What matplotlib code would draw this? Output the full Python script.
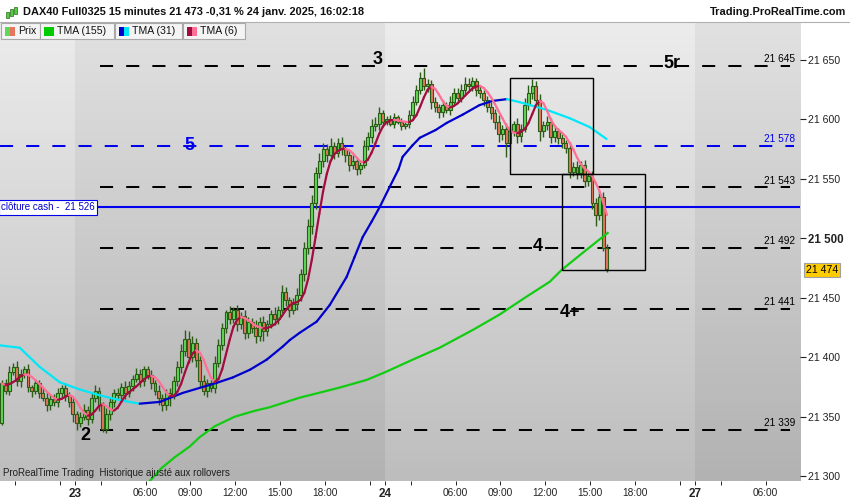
import numpy as np
import pandas as pd
import matplotlib
matplotlib.use("Agg")
import matplotlib.pyplot as plt
from matplotlib.collections import LineCollection
from matplotlib.patches import Rectangle
from matplotlib.colors import to_rgb

plt.rcParams['font.family'] = ['Liberation Sans', 'DejaVu Sans']

W, H = 850, 500

# ---------------- data (15 min bars, 22 janv. 17:00 -> 24 janv. 16:00) ----------------
first_open = 21345
close_22 = [21378, 21372, 21388, 21392, 21380, 21386, 21390, 21375, 21372, 21378,
            21370, 21366, 21360, 21365, 21362, 21370, 21374, 21368, 21362, 21352]
close_23 = [21345, 21350, 21356, 21348, 21366, 21372, 21360, 21340, 21352, 21362,
            21370, 21368, 21375, 21370, 21376, 21382, 21386, 21380, 21390, 21385,
            21378, 21372, 21366, 21360, 21370, 21368, 21380, 21392, 21405, 21415,
            21400, 21412, 21398, 21380, 21372, 21378, 21374, 21395, 21410, 21425,
            21438, 21432, 21440, 21428, 21435, 21420, 21430, 21425, 21418, 21430,
            21422, 21428, 21436, 21432, 21440, 21455, 21448, 21440, 21445, 21452,
            21470, 21492, 21510, 21530, 21555, 21565, 21575, 21570, 21578, 21572,
            21580, 21575, 21570, 21562, 21565, 21558, 21562, 21578, 21585, 21594,
            21596, 21605, 21598]
close_24 = [21600, 21596, 21602, 21598, 21594, 21596, 21604, 21615, 21625, 21635,
            21628, 21630, 21615, 21610, 21606, 21612, 21608, 21615, 21622, 21618,
            21625, 21630, 21628, 21632, 21625, 21622, 21616, 21610,
            21605, 21598, 21588, 21592, 21580, 21590, 21596, 21586, 21592, 21612,
            21622, 21628, 21616, 21590, 21595, 21598, 21585, 21590, 21584, 21580,
            21576, 21556, 21560, 21555, 21562, 21548, 21552, 21530, 21520, 21535,
            21492, 21474]

up_22 = [3, 4, 5, 3, 5, 4, 3, 4, 2, 4, 3, 4, 5, 3, 4, 4, 3, 4, 3, 4]
up_23 = [3, 4, 5, 3, 4, 5, 3, 2, 5, 4, 3, 4, 3, 5, 4, 3, 5, 4, 3, 3,
         4, 3, 5, 3, 3, 4, 4, 5, 6, 8, 7, 6, 4, 3, 5, 4, 3, 6, 5, 4,
         2, 5, 2, 4, 3, 5, 4, 3, 6, 4, 5, 3, 4, 6, 3, 6, 4, 3, 5, 6,
         4, 5, 6, 6, 5, 7, 5, 4, 6, 3, 4, 5, 3, 4, 5, 3, 4, 5, 4, 6,
         6, 5, 3]
up_24 = [3, 4, 3, 2, 3, 2, 4, 5, 4, 5, 8, 4, 3, 4, 3, 4, 3, 5, 4, 4,
         5, 6, 5, 4, 3, 4, 3, 4, 5, 4, 6, 3, 5, 4, 3, 5, 4, 6,
         7, 6, 4, 5, 4, 5, 3, 4, 3, 4, 3, 5, 4, 5, 3, 4, 3, 5, 4, 5, 4, 3]
dn_22 = [2, 3, 4, 3, 4, 5, 3, 4, 5, 3, 4, 3, 5, 4, 3, 4, 3, 5, 4, 6]
dn_23 = [6, 4, 3, 5, 3, 4, 5, 3, 4, 5, 4, 3, 4, 5, 3, 4, 3, 5, 4, 3,
         5, 4, 6, 5, 4, 9, 3, 4, 5, 4, 5, 4, 6, 5, 4, 5, 3, 4, 3, 4,
         5, 4, 3, 6, 4, 5, 4, 5, 6, 4, 8, 4, 3, 5, 4, 3, 5, 6, 4, 5,
         5, 6, 5, 6, 5, 4, 5, 6, 4, 5, 4, 5, 6, 5, 4, 5, 4, 3, 4, 5,
         4, 5, 4]
dn_24 = [3, 2, 3, 2, 3, 2, 3, 4, 3, 4, 3, 5, 6, 4, 5, 4, 3, 4, 3, 4,
         3, 4, 3, 4, 5, 4, 5, 4, 5, 6, 7, 5, 12, 5, 4, 6, 5, 3,
         4, 5, 6, 8, 5, 4, 5, 4, 5, 4, 4, 5, 4, 5, 4, 5, 4, 5, 10, 5, 3, 2]

# TMA (31) and TMA (155) (x in bar units)
tma31_x = [0, 5.3, 10.6, 16.0, 21.3, 26.7, 32.0, 37.4, 42.8, 48.9, 58.0, 62.3, 66.9,
           71.4, 75.7, 77.6, 80.2, 84.8, 88.3, 92.8, 94.9, 97.1, 99.5, 101.7, 104.3,
           106.7, 107.8, 110.4, 112.4, 116.6, 119.6, 123.9, 128.4, 131.9, 135.7,
           139.1, 146.4, 152.5, 157.9, 162.4]
tma31_y = [21410, 21408, 21392, 21379, 21373, 21368, 21364, 21361, 21362.5, 21370,
           21378.5, 21383, 21389.5, 21398, 21409, 21414.5, 21420.5, 21430, 21444,
           21467.5, 21484, 21501, 21514, 21526.5, 21543, 21558, 21568.5, 21578,
           21584.5, 21591, 21597, 21604, 21612, 21615.5, 21617, 21614.5, 21608,
           21601, 21593.5, 21583.5]
tma155_x = [40.1, 43.3, 46.8, 50.8, 53.5, 57.5, 62.8, 68.2, 72.2, 80.2, 90.9, 98.2,
            103.5, 110.5, 117.7, 126.6, 133.8, 141.0, 147.2, 150.4, 156.5, 162.7]
tma155_y = [21296, 21307, 21316, 21325, 21333, 21342, 21350, 21355, 21358, 21366,
            21374.5, 21381, 21388, 21398, 21408, 21423, 21436, 21451, 21463.5,
            21473.5, 21489, 21504.5]

# drawn levels
levels = [21645, 21543, 21492, 21441, 21339]
level_blue = 21578
cash_close = 21526
last_price = 21474
box_zones = [(136.5, 158.7, 21554, 21635), (150.4, 172.6, 21473, 21554)]
wave_labels = [("3", 101.1, 21650, 'black'), ("5r", 179.8, 21647, 'black'),
               ("5", 50.8, 21578, '#0000ee'), ("4", 144.0, 21493, 'black'),
               ("4+", 152.5, 21438, 'black'), ("2", 22.9, 21334, 'black')]

# sessions: first bar index of each day (01:15 opening, 83 bars per day)
day_names = ['22', '23', '24', '27']
day_start = [-63, 20, 103, 186]
price_ticks = [21300, 21350, 21400, 21450, 21500, 21550, 21600, 21650]

closes = np.array(close_22 + close_23 + close_24, dtype=float)
up = np.array(up_22 + up_23 + up_24, dtype=float)
dn = np.array(dn_22 + dn_23 + dn_24, dtype=float)
opens = np.concatenate([[first_open], closes[:-1]])
highs = np.maximum(opens, closes) + up
lows = np.minimum(opens, closes) - dn
xb = np.arange(len(closes)) + 0.5

tma6 = pd.Series(closes).rolling(3, min_periods=1).mean().rolling(4, min_periods=1).mean().values

XMAX = 214.2
YMIN, YMAX = 21296, 21681

C_EDGE = '#2a5c16'
C_UP = '#5fd85a'
C_DN = '#e8765f'


def fx(px):
    return px / W


def fy(py):
    return 1 - py / H


def tpos(day, hh, mm=0):
    return day_start[day_names.index(day)] + ((hh * 60 + mm) - 75) / 15.0


def price_fmt(v):
    s = f"{int(v)}"
    return s[:-3] + " " + s[-3:]


fig = plt.figure(figsize=(W / 100, H / 100), dpi=100, facecolor='white')
ax = fig.add_axes([0, fy(481), fx(800), (481 - 23) / H])
ax.set_xlim(0, XMAX)
ax.set_ylim(YMIN, YMAX)

# background bands with vertical gradient
band_light = (to_rgb('#ececec'), to_rgb('#bdbdbd'))
band_dark = (to_rgb('#e1e1e1'), to_rgb('#b2b2b2'))
edges = day_start[1:] + [XMAX]
lefts = [0] + day_start[1:]
for k, (a, b) in enumerate(zip(lefts, edges)):
    top, bot = band_light if k % 2 == 0 else band_dark
    t = np.linspace(0, 1, 256)[:, None]
    grad = np.array(top)[None, :] * (1 - t) + np.array(bot)[None, :] * t
    ax.imshow(grad[:, None, :], extent=(a, b, YMIN, YMAX), aspect='auto',
              zorder=0, interpolation='bilinear')

# levels
dash = (0, (6.5, 6.5))
for lv in levels:
    ax.plot([26.7, 211.4], [lv, lv], color='black', lw=1.45, linestyle=dash, zorder=2)
    ax.text(212.9, lv + 1.2, price_fmt(lv), ha='right', va='bottom', fontsize=7.3,
            color='black', zorder=6)
ax.plot([0, 212.5], [level_blue, level_blue], color='#0000ee', lw=1.45, linestyle=dash, zorder=2)
ax.text(212.9, level_blue + 1.2, price_fmt(level_blue), ha='right', va='bottom', fontsize=7.3,
        color='#0000ee', zorder=6)
ax.axhline(cash_close, color='#0000ee', lw=1.5, zorder=2)
ax.text(0.3, cash_close, "clôture cash -  " + price_fmt(cash_close), ha='left', va='center',
        fontsize=7, color='#0000cc', zorder=7,
        bbox=dict(boxstyle='square,pad=0.25', facecolor='white', edgecolor='#0000ee', lw=0.8))

# candles
ax.vlines(xb, lows, highs, color=C_EDGE, lw=1.0, zorder=3)
body_lo = np.minimum(opens, closes)
body_h = np.maximum(np.abs(closes - opens), 1.0)
fills = [C_UP if c >= o else C_DN for o, c in zip(opens, closes)]
ax.bar(xb, body_h, bottom=body_lo, width=0.78, color=fills, edgecolor=C_EDGE,
       linewidth=0.8, zorder=4)


def colored_line(x, y, c_up, c_dn, lw):
    x = np.asarray(x, float)
    y = np.asarray(y, float)
    segs = [[(x[i - 1], y[i - 1]), (x[i], y[i])] for i in range(1, len(x))]
    cols = [c_up if y[i] >= y[i - 1] else c_dn for i in range(1, len(x))]
    lc = LineCollection(segs, colors=cols, linewidths=lw, zorder=5, capstyle='round')
    ax.add_collection(lc)


ax.plot(tma155_x, tma155_y, color='#11cc11', lw=1.6, zorder=5, solid_joinstyle='round')
colored_line(tma31_x, tma31_y, '#0000cc', '#00e8f8', 1.6)
colored_line(xb, tma6, '#a30c3e', '#ff6f96', 1.6)

# zones and wave labels
for x0, x1, y0, y1 in box_zones:
    ax.add_patch(Rectangle((x0, y0), x1 - x0, y1 - y0, fill=False, edgecolor='black',
                           lw=1.0, zorder=6))
for txt, x, y, col in wave_labels:
    ax.text(x, y, txt, ha='center', va='center', fontsize=13, fontweight='bold',
            color=col, zorder=7)

ax.text(0.8, 21303, "ProRealTime Trading  Historique ajusté aux rollovers", fontsize=7,
        color='#202020', ha='left', va='center', zorder=7)

# axes
for s in ax.spines.values():
    s.set_visible(False)
ax.yaxis.tick_right()
ax.set_yticks(price_ticks, [price_fmt(v) for v in price_ticks])
ax.tick_params(axis='y', direction='out', length=4, pad=2, labelsize=7.6,
               colors='#222222', width=0.8)
for lbl in ax.get_yticklabels():
    if lbl.get_text() == "21 500":
        lbl.set_fontweight('bold')
        lbl.set_fontsize(8.3)

major_pos, major_lab = [], []
for d in ['23', '24']:
    major_pos.append(tpos(d, 1, 15))
    major_lab.append(d)
    for hh in [6, 9, 12, 15, 18]:
        major_pos.append(tpos(d, hh))
        major_lab.append(f"{hh:02d}:00")
major_pos += [tpos('27', 1, 15), tpos('27', 6)]
major_lab += ['27', '06:00']
minor_pos = [tpos('22', 18), tpos('22', 21), tpos('23', 3), tpos('23', 21),
             tpos('24', 3), tpos('24', 21), tpos('27', 3)]
ax.set_xticks(major_pos, major_lab)
ax.set_xticks(minor_pos, minor=True)
ax.tick_params(axis='x', which='both', direction='out', length=3, pad=2,
               labelsize=7.3, colors='#222222', width=0.7)
for lbl in ax.get_xticklabels():
    if ':' not in lbl.get_text():
        lbl.set_fontweight('bold')
        lbl.set_fontsize(8.5)

# header
fig.patches.append(Rectangle((0, fy(22)), 1, 22 / H, transform=fig.transFigure,
                             facecolor='white', edgecolor='none', zorder=8))
fig.lines.append(plt.Line2D([0, 1], [fy(22), fy(22)], transform=fig.transFigure,
                            color='#b0b0b0', lw=0.8, zorder=9))
for k, (x0, h0, h1) in enumerate([(6, 8, 14), (10, 5, 12), (14, 3, 10)]):
    fig.patches.append(Rectangle((fx(x0), fy(h1 + 4)), fx(2.5), (h1 - h0) / H,
                                 transform=fig.transFigure, facecolor='#55cc44',
                                 edgecolor='#2a6a1a', lw=0.5, zorder=9))
fig.text(fx(23), fy(12), "DAX40 Full0325 15 minutes 21 473 -0,31 % 24 janv. 2025, 16:02:18",
         fontsize=7.9, fontweight='bold', color='#111111', ha='left', va='center', zorder=10)
fig.text(fx(846), fy(12), "Trading.ProRealTime.com", fontsize=7.9, fontweight='bold',
         color='#111111', ha='right', va='center', zorder=10)

legend_boxes = [(1, 40, ('#5fd85a', '#e8765f'), "Prix"),
                (40, 114, ('#00cc00', '#00cc00'), "TMA (155)"),
                (115, 182, ('#0000cc', '#00e8f8'), "TMA (31)"),
                (183, 245, ('#a30c3e', '#ff6f96'), "TMA (6)")]
for x0, x1, (c1, c2), name in legend_boxes:
    fig.patches.append(Rectangle((fx(x0), fy(39)), fx(x1 - x0), 16 / H, transform=fig.transFigure,
                                 facecolor='#f4f4f4', edgecolor='#a8a8a8', lw=0.8, zorder=9))
    fig.patches.append(Rectangle((fx(x0 + 4), fy(36)), fx(5), 9 / H, transform=fig.transFigure,
                                 facecolor=c1, edgecolor='none', zorder=10))
    fig.patches.append(Rectangle((fx(x0 + 9), fy(36)), fx(5), 9 / H, transform=fig.transFigure,
                                 facecolor=c2, edgecolor='none', zorder=10))
    fig.text(fx(x0 + 17), fy(31.5), name, fontsize=7.6, color='#111111', ha='left',
             va='center', zorder=11)

# last price tag
fig.text(fx(806), fy(270), price_fmt(last_price), fontsize=7.6, color='black', ha='left',
         va='center', zorder=11,
         bbox=dict(boxstyle='square,pad=0.2', facecolor='#ffcc00', edgecolor='#a0a0a0', lw=0.8))

fig.savefig("out.png", dpi=100, facecolor='white')
